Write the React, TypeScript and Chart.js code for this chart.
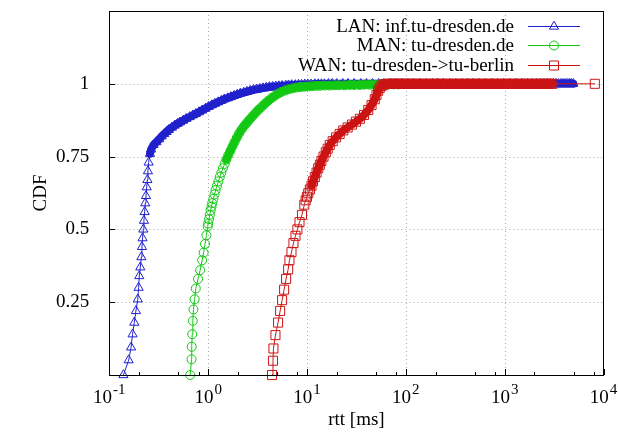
import React, { useEffect, useRef } from "react";
import { Chart, registerables } from "chart.js";

Chart.register(...registerables);

// ---- data (rtt in ms, CDF) ----
const lanSamples: number[][] = [
  [0.139, 0], [0.157, 0.051], [0.166, 0.095], [0.172, 0.14], [0.179, 0.18], [0.186, 0.22],
  [0.194, 0.26], [0.198, 0.3], [0.201, 0.34], [0.206, 0.37], [0.211, 0.405], [0.214, 0.44],
  [0.217, 0.47], [0.221, 0.5], [0.224, 0.53], [0.228, 0.56], [0.231, 0.59], [0.235, 0.615],
  [0.239, 0.645], [0.243, 0.67], [0.246, 0.7], [0.25, 0.73], [0.258, 0.76],
  [0.265, 0.775], [0.28, 0.79], [0.3, 0.8], [0.32, 0.81], [0.34, 0.82], [0.36, 0.828],
  [0.38, 0.835], [0.4, 0.842], [0.43, 0.85], [0.46, 0.857], [0.49, 0.863], [0.52, 0.868],
  [0.56, 0.874], [0.6, 0.88], [0.65, 0.886], [0.7, 0.892], [0.75, 0.897], [0.81, 0.903],
  [0.87, 0.909], [0.94, 0.915], [1.01, 0.921], [1.09, 0.927], [1.17, 0.932], [1.26, 0.937],
  [1.36, 0.942], [1.46, 0.947], [1.58, 0.951], [1.7, 0.955], [1.83, 0.959], [1.97, 0.963],
  [2.12, 0.967], [2.29, 0.97], [2.47, 0.973], [2.66, 0.976], [2.87, 0.979], [3.09, 0.981],
  [3.33, 0.983], [3.59, 0.985], [3.87, 0.987], [4.17, 0.989], [4.5, 0.99], [4.85, 0.991],
  [5.2, 0.992], [5.6, 0.993], [6.1, 0.994], [6.5, 0.995], [7.0, 0.996], [7.6, 0.996],
  [8.2, 0.997], [8.8, 0.997], [9.5, 0.998], [10.2, 0.998], [11, 0.998], [12, 0.999],
  [13, 0.999], [14, 0.999], [15, 0.999], [16.5, 1], [18, 1],
  [20, 1], [23, 1], [26, 1], [30, 1], [35, 1], [40, 1], [46, 1], [53, 1], [60, 1], [70, 1],
  [80, 1], [92, 1], [105, 1], [120, 1], [140, 1], [160, 1], [185, 1], [210, 1], [240, 1],
  [280, 1], [320, 1], [370, 1], [420, 1], [480, 1], [550, 1], [640, 1], [740, 1], [850, 1],
  [980, 1], [1130, 1], [1300, 1], [1500, 1], [1700, 1], [1900, 1], [2100, 1], [2300, 1],
  [2500, 1], [2700, 1], [2900, 1], [3100, 1], [3300, 1], [3500, 1], [3700, 1], [3900, 1],
  [4100, 1], [4300, 1], [4500, 1], [4700, 1], [4950, 1],
];

const manSamples: number[][] = [
  [0.659, 0], [0.679, 0.054], [0.682, 0.097], [0.69, 0.14], [0.7, 0.186], [0.71, 0.225],
  [0.73, 0.26], [0.75, 0.297], [0.79, 0.33], [0.83, 0.36], [0.87, 0.394], [0.9, 0.42],
  [0.93, 0.45], [0.96, 0.48], [0.99, 0.51], [1.0, 0.52], [1.02, 0.535], [1.04, 0.55],
  [1.06, 0.565], [1.08, 0.578], [1.1, 0.59], [1.13, 0.605], [1.16, 0.62], [1.19, 0.635],
  [1.23, 0.65], [1.27, 0.665], [1.31, 0.68], [1.36, 0.695], [1.41, 0.71], [1.47, 0.725],
  [1.53, 0.74], [1.6, 0.755], [1.68, 0.77], [1.76, 0.785], [1.85, 0.8], [1.95, 0.815],
  [2.06, 0.83], [2.18, 0.843], [2.31, 0.855], [2.46, 0.866], [2.62, 0.877], [2.8, 0.888],
  [3.0, 0.899], [3.22, 0.91], [3.46, 0.92], [3.73, 0.931], [4.02, 0.941], [4.35, 0.95],
  [4.7, 0.958], [5.1, 0.966], [5.5, 0.972], [6.0, 0.977], [6.5, 0.981], [7.1, 0.984],
  [7.8, 0.987], [8.5, 0.989], [9.3, 0.99], [10.2, 0.991], [11.2, 0.992], [12.3, 0.993],
  [13.5, 0.993], [15, 0.994], [17, 0.994], [19, 0.995], [21, 0.995], [24, 0.995],
  [27, 0.996], [30, 0.996], [34, 0.996], [38, 0.997], [43, 0.997], [48, 0.997],
  [54, 0.997], [60, 0.998], [67, 0.998], [75, 0.998], [84, 0.998],
];

const wanSamples: number[][] = [
  [4.43, 0], [4.53, 0.049], [4.58, 0.091], [4.8, 0.137], [5.1, 0.18], [5.35, 0.22],
  [5.6, 0.257], [5.87, 0.293], [6.15, 0.33], [6.45, 0.363], [6.65, 0.394], [6.97, 0.422],
  [7.3, 0.453], [7.65, 0.478], [8.0, 0.5], [8.4, 0.525], [8.9, 0.55], [9.4, 0.585],
  [9.7, 0.6], [10.0, 0.612], [10.3, 0.624], [10.7, 0.637], [11.1, 0.65], [11.5, 0.665],
  [12.0, 0.68], [12.5, 0.695], [13.0, 0.71], [13.5, 0.722], [14.0, 0.735], [14.7, 0.75],
  [15.5, 0.765], [16.2, 0.777], [17.0, 0.79], [18.2, 0.803], [19.7, 0.816], [21.4, 0.828],
  [23.3, 0.84], [25.8, 0.85], [28.5, 0.86], [31.3, 0.87], [34.3, 0.88], [37.8, 0.893],
  [41.7, 0.91], [45, 0.927], [48.5, 0.947], [50.5, 0.962], [52.5, 0.976], [54.5, 0.986],
  [56.8, 0.993], [59.5, 0.997], [62, 0.999], [65, 1],
  [68, 1], [72, 1], [76, 1], [80, 1], [85, 1], [90, 1], [96, 1], [102, 1], [110, 1],
  [118, 1], [127, 1], [137, 1], [148, 1], [160, 1], [173, 1], [187, 1], [202, 1], [218, 1],
  [235, 1], [255, 1], [275, 1], [300, 1], [325, 1], [350, 1], [380, 1], [410, 1], [445, 1],
  [480, 1], [520, 1], [565, 1], [610, 1], [660, 1], [720, 1], [780, 1], [840, 1], [910, 1],
  [990, 1], [1070, 1], [1160, 1], [1260, 1], [1370, 1], [1480, 1], [1600, 1], [1740, 1],
  [1890, 1], [2050, 1], [2220, 1], [2400, 1], [2600, 1], [2820, 1], [3050, 1], [8170, 1],
];

const seriesLabels = [
  "LAN: inf.tu-dresden.de",
  "MAN: tu-dresden.de",
  "WAN: tu-dresden->tu-berlin",
];
const seriesColors = ["#2020cc", "#12c812", "#cc1414"];
const seriesMarkers = ["triangle", "circle", "rect"];
const seriesRadii = [5.3, 4.5, 6.4];
// index from which the overplotted markers merge into a solid band
const seriesBandStart = [22, 30, 22];

const xMajorTicks = [0.1, 1, 10, 100, 1000, 10000];
const xMajorExponents = ["-1", "0", "1", "2", "3", "4"];
const xMinorMantissas = [2, 5, 8];
const yTicks = [0.25, 0.5, 0.75, 1];

const xTitle = "rtt [ms]";
const yTitle = "CDF";
const FONT = '"Liberation Serif", "Times New Roman", serif';

function drawMarker(ctx: CanvasRenderingContext2D, kind: string, x: number, y: number, r: number) {
  ctx.beginPath();
  if (kind === "triangle") {
    const a = (2 * Math.PI) / 3;
    ctx.moveTo(x, y - r);
    ctx.lineTo(x + Math.sin(a) * r, y - Math.cos(a) * r);
    ctx.lineTo(x + Math.sin(2 * a) * r, y - Math.cos(2 * a) * r);
    ctx.closePath();
  } else if (kind === "circle") {
    ctx.arc(x, y, r, 0, Math.PI * 2);
  } else {
    const s = r * Math.SQRT1_2;
    ctx.rect(x - s, y - s, 2 * s, 2 * s);
  }
  ctx.stroke();
}

const decoPlugin = {
  id: "gnuplotDeco",
  beforeDatasetsDraw(chart: any) {
    const { ctx, chartArea: a, scales } = chart;
    const xs = scales.x;
    const ys = scales.y;
    ctx.save();
    ctx.strokeStyle = "#a8a8a8";
    ctx.lineWidth = 1;
    ctx.setLineDash([1, 3]);
    for (const v of xMajorTicks.slice(1, -1)) {
      const px = Math.round(xs.getPixelForValue(v)) + 0.5;
      ctx.beginPath();
      ctx.moveTo(px, a.top);
      ctx.lineTo(px, a.bottom);
      ctx.stroke();
    }
    for (const v of yTicks) {
      const py = Math.round(ys.getPixelForValue(v)) + 0.5;
      ctx.beginPath();
      ctx.moveTo(a.left, py);
      ctx.lineTo(a.right, py);
      ctx.stroke();
    }
    ctx.restore();
  },
  afterDatasetsDraw(chart: any) {
    const { ctx, chartArea: a, scales } = chart;
    const xs = scales.x;
    const ys = scales.y;
    ctx.save();
    ctx.strokeStyle = "#000";
    ctx.lineWidth = 1;
    ctx.setLineDash([]);
    ctx.strokeRect(Math.round(a.left) + 0.5, Math.round(a.top) + 0.5,
      Math.round(a.right - a.left), Math.round(a.bottom - a.top));
    ctx.beginPath();
    for (let i = 0; i < xMajorTicks.length; i++) {
      const px = Math.round(xs.getPixelForValue(xMajorTicks[i])) + 0.5;
      ctx.moveTo(px, a.bottom);
      ctx.lineTo(px, a.bottom - 6);
      if (i < xMajorTicks.length - 1) {
        for (const m of xMinorMantissas) {
          const q = Math.round(xs.getPixelForValue(xMajorTicks[i] * m)) + 0.5;
          ctx.moveTo(q, a.bottom);
          ctx.lineTo(q, a.bottom - 3);
        }
      }
    }
    for (const v of yTicks) {
      const py = Math.round(ys.getPixelForValue(v)) + 0.5;
      ctx.moveTo(a.left, py);
      ctx.lineTo(a.left + 6, py);
    }
    ctx.stroke();

    ctx.fillStyle = "#000";
    ctx.textAlign = "left";
    ctx.textBaseline = "alphabetic";
    for (let i = 0; i < xMajorTicks.length; i++) {
      const px = xs.getPixelForValue(xMajorTicks[i]);
      ctx.font = `19px ${FONT}`;
      const w1 = ctx.measureText("10").width;
      ctx.font = `15px ${FONT}`;
      const w2 = ctx.measureText(xMajorExponents[i]).width;
      const start = px - (w1 + w2 + 1) / 2;
      ctx.font = `19px ${FONT}`;
      ctx.fillText("10", start, 403);
      ctx.font = `15px ${FONT}`;
      ctx.fillText(xMajorExponents[i], start + w1 + 1, 394);
    }
    ctx.font = `19px ${FONT}`;
    ctx.textAlign = "center";
    ctx.fillText(xTitle, (a.left + a.right) / 2, 425);
    ctx.save();
    ctx.translate(41, (a.top + a.bottom) / 2);
    ctx.rotate(-Math.PI / 2);
    ctx.textBaseline = "middle";
    ctx.fillText(yTitle, 0, 0);
    ctx.restore();

    for (let i = 0; i < seriesLabels.length; i++) {
      const ry = 25.7 + i * 19.7;
      ctx.font = `19px ${FONT}`;
      ctx.textAlign = "right";
      ctx.textBaseline = "alphabetic";
      ctx.fillStyle = "#000";
      ctx.fillText(seriesLabels[i], 514, ry + 6);
      ctx.strokeStyle = seriesColors[i];
      ctx.lineWidth = 1;
      ctx.beginPath();
      ctx.moveTo(528, Math.round(ry) + 0.5);
      ctx.lineTo(580, Math.round(ry) + 0.5);
      ctx.stroke();
      drawMarker(ctx, seriesMarkers[i], 554, Math.round(ry) + 0.5, seriesRadii[i]);
    }
    ctx.restore();
  },
};

function toPoints(samples: number[][]) {
  return samples.map(([x, y]) => ({ x, y }));
}

export default function App() {
  const ref = useRef<HTMLCanvasElement>(null);
  useEffect(() => {
    const all = [lanSamples, manSamples, wanSamples];
    const chart = new Chart(ref.current!, {
      type: "scatter",
      data: {
        datasets: all.map((s, i) => ({
          label: seriesLabels[i],
          data: toPoints(s),
          showLine: true,
          borderColor: seriesColors[i],
          backgroundColor: "rgba(0,0,0,0)",
          borderWidth: 1,
          borderJoinStyle: "round" as any,
          borderCapStyle: "round" as any,
          segment: {
            borderWidth: (c: any) =>
              c.p0DataIndex >= seriesBandStart[i] && Math.abs(c.p1.x - c.p0.x) < 20 ? 8 : 1,
          },
          pointStyle: seriesMarkers[i] as any,
          pointRadius: seriesRadii[i],
          pointBorderWidth: 1,
          pointBorderColor: seriesColors[i],
          pointBackgroundColor: "rgba(0,0,0,0)",
          order: 3 - i,
          clip: false as any,
        })),
      },
      options: {
        animation: false,
        responsive: false,
        devicePixelRatio: 1,
        layout: { padding: { left: 0, top: 11, right: 14.5, bottom: 0 } },
        plugins: { legend: { display: false }, tooltip: { enabled: false } },
        scales: {
          x: {
            type: "logarithmic",
            min: 0.1,
            max: 10000,
            grid: { display: false },
            border: { display: false },
            ticks: { display: false },
            afterBuildTicks: (s: any) => {
              s.ticks = xMajorTicks.map((v) => ({ value: v }));
            },
            afterFit: (s: any) => {
              s.height = 60;
              s.paddingLeft = 0;
              s.paddingRight = 0;
            },
          },
          y: {
            type: "linear",
            min: 0,
            max: 1.25,
            grid: { display: false },
            border: { display: false },
            afterBuildTicks: (s: any) => {
              s.ticks = yTicks.map((v) => ({ value: v }));
            },
            ticks: {
              color: "#000",
              padding: 12,
              font: { family: FONT, size: 19 },
              callback: (v: any) => String(v),
            },
            afterFit: (s: any) => {
              s.width = 109.3;
              s.paddingTop = 0;
              s.paddingBottom = 0;
            },
          },
        },
      },
      plugins: [decoPlugin],
    });
    return () => chart.destroy();
  }, []);
  return (
    <div style={{ position: "fixed", left: 0, top: 0, width: 618, height: 435, background: "#fff" }}>
      <canvas ref={ref} width={618} height={435} style={{ display: "block", width: 618, height: 435 }} />
    </div>
  );
}
